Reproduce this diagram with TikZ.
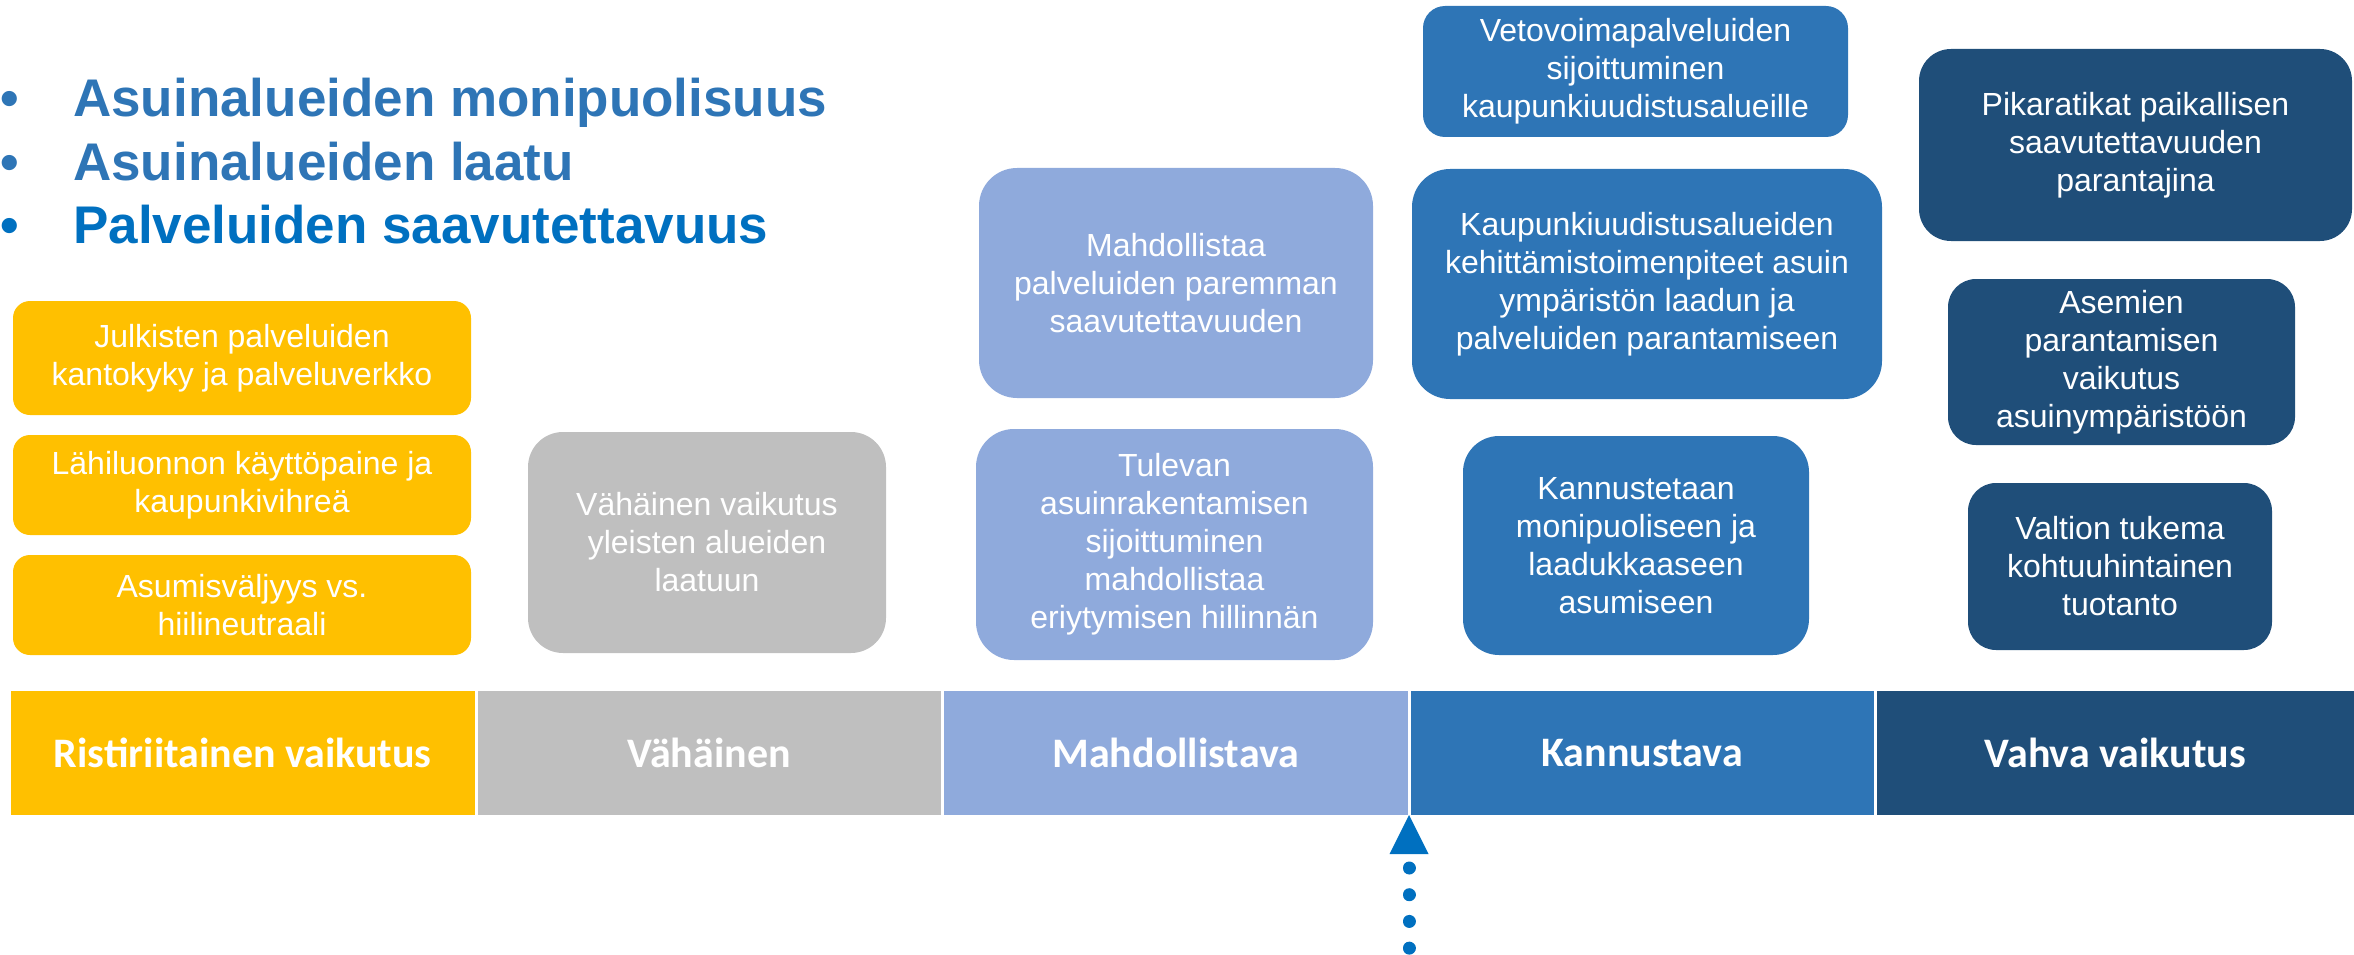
\documentclass[tikz,border=0pt]{standalone}
\usepackage{fontspec}
\setmainfont{Liberation Sans}
\newfontfamily\barfont{Carlito}
\definecolor{vkyellow}{HTML}{FFC000}
\definecolor{vkgray}{HTML}{BFBFBF}
\definecolor{vklight}{HTML}{8FAADC}
\definecolor{vkmid}{HTML}{2E75B6}
\definecolor{vkdark}{HTML}{1F4E79}
\definecolor{vkpoint}{HTML}{0070C0}

\begin{document}
\begin{tikzpicture}[
  x=1pt, y=-1pt,
  card/.style={rectangle, inner sep=0pt, align=center, text=white, font=\fontsize{32}{38}\selectfont},
  ybox/.style={card, fill=vkyellow, rounded corners=17pt},
  gbox/.style={card, fill=vkgray, rounded corners=35pt},
  lbox/.style={card, fill=vklight, rounded corners=38pt},
  mbox/.style={card, fill=vkmid, rounded corners=36pt},
  dbox/.style={card, fill=vkdark, rounded corners=28pt},
  seg/.style={rectangle, inner sep=0pt, minimum height=124pt, text=white, font=\barfont\bfseries\fontsize{42}{48}\selectfont},
  headline/.style={anchor=base west, inner sep=0pt, font=\bfseries\fontsize{53}{64}\selectfont},
  dotline/.style={vkpoint, line width=13pt, line cap=round, dash pattern=on 0.01pt off 26.7pt},
]
\useasboundingbox (0,0) rectangle (2354,955);

% Themes
\node[headline, vkmid] (b1) at (0,117) {•};
\node[headline, vkmid] (t1) at (73,117) {Asuinalueiden monipuolisuus};
\node[headline, vkmid] (b2) at (0,180) {•};
\node[headline, vkmid] (t2) at (73,180) {Asuinalueiden laatu};
\node[headline, vkpoint] (b3) at (0,243) {•};
\node[headline, vkpoint] (t3) at (73,243) {Palveluiden saavutettavuus};

% Conflicting
\node[ybox, minimum width=458pt, minimum height=114pt] (y1) at (242,358) {Julkisten palveluiden\\kantokyky ja palveluverkko};
\node[ybox, minimum width=458pt, minimum height=100pt] (y2) at (242,485) {Lähiluonnon käyttöpaine ja\\kaupunkivihreä};
\node[ybox, minimum width=458pt, minimum height=100pt] (y3) at (242,605) {Asumisväljyys vs.\\hiilineutraali};

% Minor
\node[gbox, minimum width=358pt, minimum height=221pt] (g1) at (707,542.5) {Vähäinen vaikutus\\yleisten alueiden\\laatuun};

% Enabling
\node[lbox, minimum width=394pt, minimum height=230pt] (l1) at (1176,283) {Mahdollistaa\\palveluiden paremman\\saavutettavuuden};
\node[lbox, minimum width=397pt, minimum height=231pt] (l2) at (1174.5,544.5) {Tulevan\\asuinrakentamisen\\sijoittuminen\\mahdollistaa\\eriytymisen hillinnän};

% Encouraging
\node[mbox, rounded corners=22pt, minimum width=425pt, minimum height=131pt] (m1) at (1635.5,71.5) {Vetovoimapalveluiden\\sijoittuminen\\kaupunkiuudistusalueille};
\node[mbox, rounded corners=38pt, minimum width=470pt, minimum height=230pt] (m2) at (1647,284) {Kaupunkiuudistusalueiden\\kehittämistoimenpiteet asuin\\ympäristön laadun ja\\palveluiden parantamiseen};
\node[mbox, minimum width=346pt, minimum height=219pt] (m3) at (1636,545.5) {Kannustetaan\\monipuoliseen ja\\laadukkaaseen\\asumiseen};

% Strong
\node[dbox, rounded corners=32pt, minimum width=433pt, minimum height=192pt] (d1) at (2135.5,145) {Pikaratikat paikallisen\\saavutettavuuden\\parantajina};
\node[dbox, minimum width=347pt, minimum height=166pt] (d2) at (2121.5,362) {Asemien\\parantamisen\\vaikutus\\asuinympäristöön};
\node[dbox, minimum width=304pt, minimum height=167pt] (d3) at (2120,566.5) {Valtion tukema\\kohtuuhintainen\\tuotanto};

% Scale
\node[seg, fill=vkyellow, minimum width=463.5pt] (s1) at (242.75,753) {Ristiriitainen vaikutus};
\node[seg, fill=vkgray, minimum width=463.5pt] (s2) at (709.25,753) {Vähäinen};
\node[seg, fill=vklight, minimum width=463.5pt] (s3) at (1175.75,753) {Mahdollistava};
\node[seg, fill=vkmid, minimum width=463pt] (s4) at (1642,753) {Kannustava};
\node[seg, fill=vkdark, minimum width=477.5pt] (s5) at (2115.25,753) {Vahva vaikutus};

% Pointer
\coordinate (ptip) at (1409,815);
\coordinate (ptail) at (1409,960);
\fill[vkpoint] (ptip) -- ++(-19.5,39) -- ++(39,0) -- cycle;
\draw[dotline] ([yshift=-53pt]ptip) -- (ptail);

\end{tikzpicture}
\end{document}
